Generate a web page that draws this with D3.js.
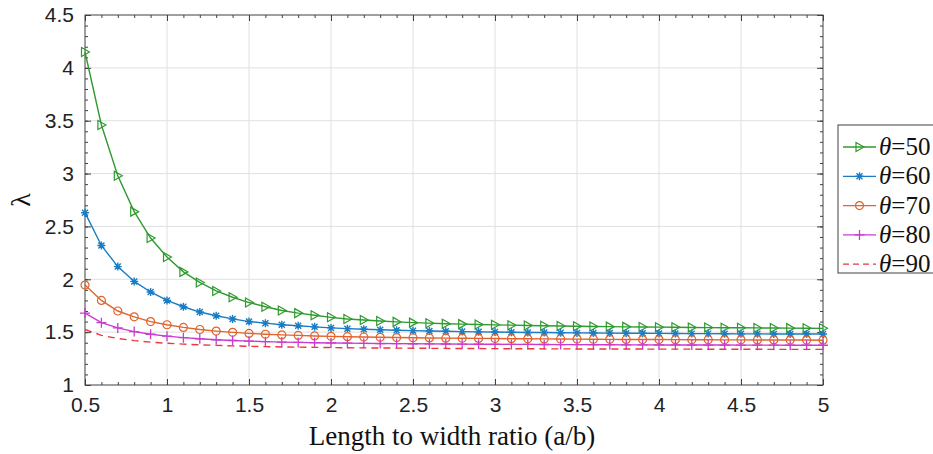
<!DOCTYPE html>
<html>
<head>
<meta charset="utf-8">
<script src="https://cdn.jsdelivr.net/npm/d3@7"></script>
<style>
  body { margin: 0; background: #fff; }
  svg { display: block; }
</style>
</head>
<body>
<div id="chart"></div>
<script>
var ratios = [0.5, 0.6, 0.7, 0.8, 0.9, 1.0, 1.1, 1.2, 1.3, 1.4, 1.5, 1.6, 1.7, 1.8, 1.9, 2.0,
  2.1, 2.2, 2.3, 2.4, 2.5, 2.6, 2.7, 2.8, 2.9, 3.0, 3.1, 3.2, 3.3, 3.4, 3.5, 3.6, 3.7, 3.8,
  3.9, 4.0, 4.1, 4.2, 4.3, 4.4, 4.5, 4.6, 4.7, 4.8, 4.9, 5.0];

var theta50 = [4.15, 3.46, 2.98, 2.64, 2.39, 2.21, 2.07, 1.97, 1.89, 1.83, 1.78, 1.74, 1.705, 1.68,
  1.66, 1.64, 1.625, 1.615, 1.605, 1.597, 1.59, 1.585, 1.58, 1.576, 1.572, 1.569, 1.566, 1.563,
  1.561, 1.558, 1.556, 1.554, 1.552, 1.55, 1.549, 1.547, 1.546, 1.544, 1.543, 1.542, 1.541,
  1.54, 1.539, 1.538, 1.537, 1.536];
var theta60 = [2.63, 2.32, 2.12, 1.98, 1.88, 1.80, 1.74, 1.69, 1.655, 1.625, 1.60, 1.585, 1.57,
  1.56, 1.55, 1.54, 1.533, 1.527, 1.522, 1.518, 1.514, 1.511, 1.508, 1.505, 1.503, 1.501, 1.499,
  1.497, 1.496, 1.494, 1.493, 1.492, 1.491, 1.49, 1.489, 1.488, 1.487, 1.486, 1.486, 1.485,
  1.484, 1.484, 1.483, 1.483, 1.482, 1.482];
var theta70 = [1.945, 1.80, 1.70, 1.645, 1.60, 1.57, 1.545, 1.525, 1.51, 1.498, 1.488, 1.48, 1.474,
  1.469, 1.464, 1.46, 1.457, 1.454, 1.451, 1.449, 1.447, 1.445, 1.443, 1.442, 1.441, 1.44, 1.438,
  1.437, 1.436, 1.435, 1.434, 1.433, 1.432, 1.431, 1.43, 1.43, 1.429, 1.428, 1.428, 1.427, 1.427,
  1.426, 1.426, 1.425, 1.425, 1.424];
var theta80 = [1.68, 1.59, 1.54, 1.505, 1.48, 1.462, 1.448, 1.437, 1.428, 1.421, 1.415, 1.41, 1.406,
  1.403, 1.40, 1.398, 1.396, 1.394, 1.392, 1.391, 1.39, 1.389, 1.388, 1.387, 1.386, 1.385, 1.384,
  1.384, 1.383, 1.382, 1.382, 1.381, 1.381, 1.38, 1.38, 1.379, 1.379, 1.378, 1.378, 1.378, 1.377,
  1.377, 1.377, 1.376, 1.376, 1.376];
var theta90 = [1.525, 1.47, 1.44, 1.42, 1.405, 1.395, 1.387, 1.38, 1.375, 1.37, 1.366, 1.363, 1.36,
  1.358, 1.356, 1.354, 1.352, 1.351, 1.35, 1.349, 1.348, 1.347, 1.346, 1.345, 1.345, 1.344, 1.343,
  1.343, 1.342, 1.342, 1.341, 1.341, 1.34, 1.34, 1.34, 1.339, 1.339, 1.339, 1.338, 1.338, 1.338,
  1.338, 1.337, 1.337, 1.337, 1.337];

var xTicks = [0.5, 1, 1.5, 2, 2.5, 3, 3.5, 4, 4.5, 5];
var yTicks = [1, 1.5, 2, 2.5, 3, 3.5, 4, 4.5];
var legendLabels = ["50", "60", "70", "80", "90"];

var series = [
  { label: legendLabels[0], values: theta50, color: "#2f9a2f", marker: "tri" },
  { label: legendLabels[1], values: theta60, color: "#1a7cc4", marker: "star" },
  { label: legendLabels[2], values: theta70, color: "#e0642c", marker: "circle" },
  { label: legendLabels[3], values: theta80, color: "#c93ccf", marker: "plus" },
  { label: legendLabels[4], values: theta90, color: "#f0363c", marker: "none", dash: "7,5" }
];

var width = 933, height = 454;
var margin = { left: 85, right: 110, top: 15, bottom: 69 };
var iw = width - margin.left - margin.right;
var ih = height - margin.top - margin.bottom;

var svg = d3.select("#chart").append("svg").attr("width", width).attr("height", height);
var g = svg.append("g").attr("transform", "translate(" + margin.left + "," + margin.top + ")");

var x = d3.scaleLinear().domain([0.5, 5]).range([0, iw]);
var y = d3.scaleLinear().domain([1, 4.5]).range([ih, 0]);

var axisColor = "#404040";
var minorX = d3.range(5, 51).map(d => d / 10);
var minorY = d3.range(10, 46).map(d => d / 10);

// grid
g.append("g").selectAll("line").data(xTicks.slice(1, -1)).join("line")
  .attr("x1", d => x(d)).attr("x2", d => x(d)).attr("y1", 0).attr("y2", ih)
  .attr("stroke", "#e0e0e0").attr("stroke-width", 1);
g.append("g").selectAll("line").data(yTicks.slice(1, -1)).join("line")
  .attr("y1", d => y(d)).attr("y2", d => y(d)).attr("x1", 0).attr("x2", iw)
  .attr("stroke", "#e0e0e0").attr("stroke-width", 1);

// axes with inward ticks on all sides
function styleAxis(sel) {
  sel.select(".domain").remove();
  sel.selectAll("line").attr("stroke", axisColor);
  sel.selectAll("text").attr("font-family", "Liberation Sans, Arial, sans-serif")
    .attr("font-size", 21).attr("fill", "#222");
}
var fmt = d3.format("~g");
g.append("g").attr("transform", "translate(0," + ih + ")")
  .call(d3.axisBottom(x).tickValues(minorX).tickSize(-3).tickFormat(""))
  .call(styleAxis);
g.append("g").attr("transform", "translate(0," + ih + ")")
  .call(d3.axisBottom(x).tickValues(xTicks).tickSize(-6).tickPadding(12).tickFormat(fmt))
  .call(styleAxis);
g.append("g")
  .call(d3.axisTop(x).tickValues(minorX).tickSize(-3).tickFormat("")).call(styleAxis);
g.append("g")
  .call(d3.axisTop(x).tickValues(xTicks).tickSize(-6).tickFormat("")).call(styleAxis);
g.append("g")
  .call(d3.axisLeft(y).tickValues(minorY).tickSize(-3).tickFormat("")).call(styleAxis);
g.append("g")
  .call(d3.axisLeft(y).tickValues(yTicks).tickSize(-6).tickPadding(11).tickFormat(fmt))
  .call(styleAxis);
g.append("g").attr("transform", "translate(" + iw + ",0)")
  .call(d3.axisRight(y).tickValues(minorY).tickSize(-3).tickFormat("")).call(styleAxis);
g.append("g").attr("transform", "translate(" + iw + ",0)")
  .call(d3.axisRight(y).tickValues(yTicks).tickSize(-6).tickFormat("")).call(styleAxis);

g.append("rect").attr("width", iw).attr("height", ih)
  .attr("fill", "none").attr("stroke", axisColor).attr("stroke-width", 1);

// markers
function drawMarker(sel, type, color) {
  if (type === "tri") {
    sel.append("path").attr("d", "M-3.5,-4.5L4.5,0L-3.5,4.5Z")
      .attr("fill", "none").attr("stroke", color).attr("stroke-width", 1.2);
  } else if (type === "circle") {
    sel.append("circle").attr("r", 4)
      .attr("fill", "none").attr("stroke", color).attr("stroke-width", 1.2);
  } else if (type === "plus") {
    sel.append("path").attr("d", "M-5,0H5M0,-5V5")
      .attr("stroke", color).attr("stroke-width", 1.3);
  } else if (type === "star") {
    sel.append("path").attr("d", "M-4,0H4M0,-4V4M-3,-3L3,3M-3,3L3,-3")
      .attr("stroke", color).attr("stroke-width", 1.4);
  }
}

var line = d3.line().x((d, i) => x(ratios[i])).y(d => y(d));

series.forEach(function (s) {
  g.append("path").datum(s.values)
    .attr("d", line).attr("fill", "none")
    .attr("stroke", s.color).attr("stroke-width", 1.4)
    .attr("stroke-dasharray", s.dash || null);
  if (s.marker !== "none") {
    g.append("g").selectAll("g").data(s.values).join("g")
      .attr("transform", (d, i) => "translate(" + x(ratios[i]) + "," + y(d) + ")")
      .each(function () { drawMarker(d3.select(this), s.marker, s.color); });
  }
});

// axis titles
svg.append("text")
  .attr("x", margin.left + iw / 2 - 2).attr("y", 445)
  .attr("text-anchor", "middle")
  .attr("font-family", "Liberation Serif, Times New Roman, serif")
  .attr("font-size", 27).attr("fill", "#111")
  .text("Length to width ratio (a/b)");
svg.append("text")
  .attr("transform", "translate(30," + (margin.top + ih / 2) + ") rotate(-90)")
  .attr("text-anchor", "middle")
  .attr("font-family", "Liberation Serif, Times New Roman, serif")
  .attr("font-size", 28).attr("fill", "#111")
  .text("λ");

// legend
var lg = svg.append("g").attr("transform", "translate(838,125)");
lg.append("rect").attr("width", 110).attr("height", 148)
  .attr("fill", "#fff").attr("stroke", axisColor).attr("stroke-width", 1);
series.forEach(function (s, i) {
  var row = lg.append("g").attr("transform", "translate(0," + (22 + i * 29.3) + ")");
  row.append("line").attr("x1", 5).attr("x2", 38).attr("y1", 0).attr("y2", 0)
    .attr("stroke", s.color).attr("stroke-width", 1.3)
    .attr("stroke-dasharray", s.dash ? "6,4" : null);
  if (s.marker !== "none") {
    var m = row.append("g").attr("transform", "translate(21.5,0)");
    drawMarker(m, s.marker, s.color);
  }
  var t = row.append("text").attr("x", 41).attr("y", 8)
    .attr("font-family", "Liberation Serif, Times New Roman, serif")
    .attr("font-size", 25).attr("fill", "#111");
  t.append("tspan").attr("font-style", "italic").text("θ");
  t.append("tspan").text("=" + s.label);
});
</script>
</body>
</html>
